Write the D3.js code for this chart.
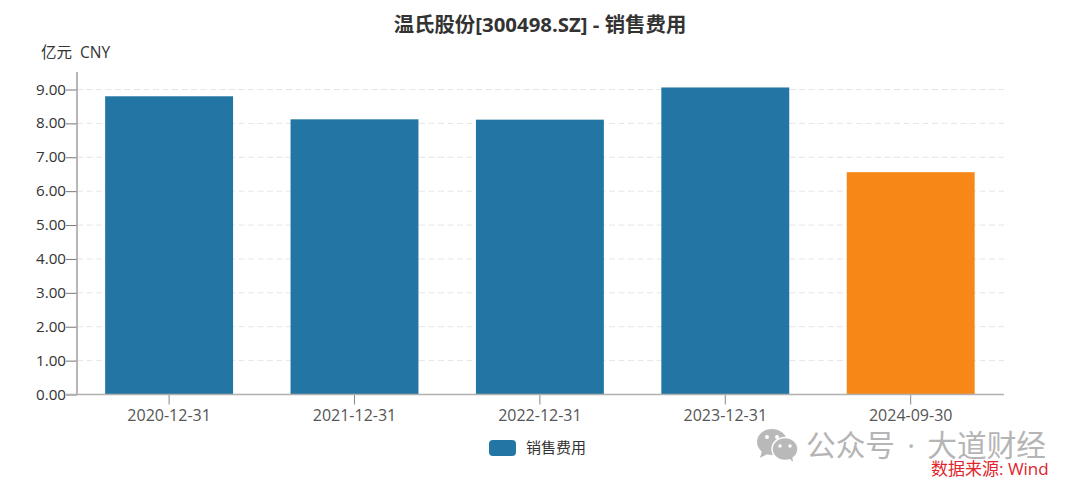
<!DOCTYPE html>
<html><head><meta charset="utf-8">
<script src="https://cdn.jsdelivr.net/npm/d3@7/dist/d3.min.js"></script>
<style>html,body{margin:0;padding:0;background:#fff}svg{display:block}text{font-family:"Open Sans","Noto Sans CJK SC",sans-serif}</style>
</head><body><svg id="c" width="1080" height="489"></svg>
<script>
const categories=["2020-12-31","2021-12-31","2022-12-31","2023-12-31","2024-09-30"];
const values=[8.80,8.12,8.11,9.06,6.56];
const barColors=["#2376a3","#2376a3","#2376a3","#2376a3","#f78817"];
const yTicks=[0,1,2,3,4,5,6,7,8,9];
const titleText="温氏股份[300498.SZ] - 销售费用";
const unitText="亿元  CNY";
const legendText="销售费用";
const watermarkText="公众号 · 大道财经";
const sourceText="数据来源: Wind";

const svg=d3.select("#c");
const x=d3.scaleBand().domain(categories).range([76.4,1003.4]).paddingInner(0.31).paddingOuter(0.155);
const y=d3.scaleLinear().domain([0,9]).range([394.5,89.5]);

svg.append("text").attr("x",540).attr("y",32).attr("text-anchor","middle").attr("font-size",20.4).attr("font-weight",700).attr("fill","#333").text(titleText);
svg.append("text").attr("x",41).attr("y",58).attr("font-size",15.5).attr("fill","#333").style("white-space","pre").text(unitText);

svg.append("g").selectAll("line").data(yTicks.filter(d=>d>0)).join("line")
 .attr("x1",77).attr("x2",1004).attr("y1",d=>y(d)).attr("y2",d=>y(d))
 .attr("stroke","#e6e6e6").attr("stroke-dasharray","6,3.5");

svg.append("g").selectAll("rect").data(values).join("rect")
 .attr("x",(d,i)=>x(categories[i])).attr("width",x.bandwidth())
 .attr("y",d=>y(d)).attr("height",d=>y(0)-y(d))
 .attr("fill",(d,i)=>barColors[i]);

const ya=svg.append("g").attr("transform","translate(77,0)").call(d3.axisLeft(y).tickValues(yTicks).tickFormat(d3.format(".2f")).tickSize(11).tickPadding(0));
ya.select(".domain").remove();
ya.selectAll("line").attr("stroke","#777").attr("stroke-width",1);
ya.selectAll("text").attr("font-size",15.2).attr("fill","#333").attr("dy","0.3em");
svg.append("line").attr("x1",77).attr("x2",77).attr("y1",72).attr("y2",395).attr("stroke","#a5a5a5").attr("stroke-width",1.6);

const xa=svg.append("g").attr("transform","translate(0,394.5)").call(d3.axisBottom(x).tickSize(10).tickPadding(5));
xa.select(".domain").remove();
xa.selectAll("line").attr("stroke","#888").attr("stroke-width",1);
xa.selectAll("text").attr("font-size",16).attr("fill","#555");
svg.append("line").attr("x1",66).attr("x2",1004).attr("y1",394.5).attr("y2",394.5).attr("stroke","#b0b0b0").attr("stroke-width",1.4);

svg.append("rect").attr("x",489).attr("y",440).attr("width",27).attr("height",16).attr("rx",4).attr("fill",barColors[0]);
svg.append("text").attr("x",526).attr("y",453).attr("font-size",15).attr("fill","#333").text(legendText);

const w=svg.append("g").attr("fill","#b9b9b9");
w.append("ellipse").attr("cx",772).attr("cy",442).attr("rx",15).attr("ry",13);
w.append("path").attr("d","M762 451 L760 458 L769 453 Z");
w.append("ellipse").attr("cx",785).attr("cy",449).attr("rx",13).attr("ry",11.5).attr("stroke","#fff").attr("stroke-width",1.5);
w.append("path").attr("d","M789 458 L793 462 L792 455 Z");
const eyes=[[767,437,2],[777,437,2],[780,446,1.7],[790,446,1.7]];
svg.append("g").selectAll("circle").data(eyes).join("circle").attr("cx",d=>d[0]).attr("cy",d=>d[1]).attr("r",d=>d[2]).attr("fill","#fff");
svg.append("text").attr("x",806).attr("y",456).attr("font-size",29.7).attr("word-spacing",4.5).attr("fill","#b5b5b5").text(watermarkText);
svg.append("text").attr("x",931).attr("y",475).attr("font-size",17).attr("fill","#e0242b").text(sourceText);
</script></body></html>
